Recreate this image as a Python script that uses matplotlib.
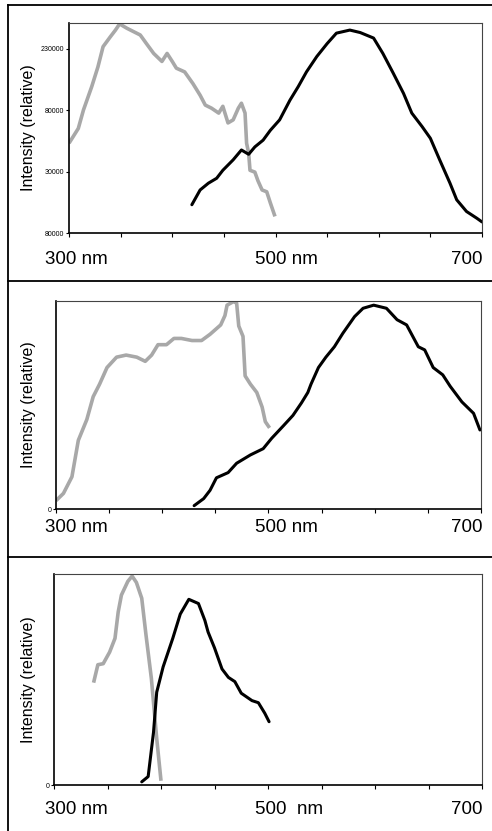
"""Excitation (gray) and emission (black) spectra, three stacked panels."""

import matplotlib
matplotlib.use("Agg")
import matplotlib.pyplot as plt
from matplotlib.lines import Line2D

plt.rcParams["font.family"] = ["Liberation Sans", "DejaVu Sans"]

# ---------------------------------------------------------------------------
# Data (wavelength in nm, intensity in relative units)
# ---------------------------------------------------------------------------

# Panel 1 -- y ticks sit at 0, 1, 2, 3
p1_exc_nm = [300, 309, 314, 322, 328, 333, 340, 345, 349, 356, 369, 375, 382,
             390, 395, 400, 404, 412, 420, 427, 432, 438, 445, 449, 454, 459,
             464, 467, 470.5, 472, 474, 475.3, 480, 483, 487, 491.5, 495, 499.5]
p1_exc_y = [1.46, 1.70, 2.00, 2.38, 2.70, 3.03, 3.19, 3.30, 3.40, 3.33, 3.22,
            3.08, 2.92, 2.79, 2.92, 2.79, 2.68, 2.62, 2.43, 2.24, 2.08, 2.03,
            1.95, 2.06, 1.79, 1.84, 2.03, 2.11, 1.95, 1.46, 1.30, 1.02, 0.99,
            0.85, 0.70, 0.67, 0.49, 0.27]

p1_em_nm = [419, 427, 435, 443, 449, 459, 467, 474, 480, 488, 495, 504, 514,
            522, 530, 540, 550, 559, 572, 582, 595, 604, 614, 624, 632, 642,
            650, 659, 669, 675.5, 685, 695, 700]
p1_em_y = [0.46, 0.70, 0.81, 0.89, 1.02, 1.19, 1.35, 1.28, 1.40, 1.51, 1.67,
           1.84, 2.16, 2.38, 2.62, 2.87, 3.08, 3.25, 3.30, 3.26, 3.17, 2.92,
           2.60, 2.27, 1.95, 1.73, 1.54, 1.19, 0.81, 0.54, 0.35, 0.24, 0.18]
p1_yticks = [0, 1, 2, 3]
p1_yticklabels = ["80000", "30000", "80000", "230000"]

# Panel 2 -- fraction of full scale
p2_exc_nm = [300, 307, 315, 321, 329, 335, 341, 348, 357, 366, 376, 384, 390,
             396, 404, 411, 418, 428, 437, 445, 455, 459, 461, 467, 470, 472,
             476, 478, 483, 489, 494, 497, 501]
p2_exc_y = [0.04, 0.075, 0.155, 0.33, 0.43, 0.54, 0.60, 0.68, 0.73, 0.74, 0.73,
            0.71, 0.74, 0.79, 0.79, 0.82, 0.82, 0.81, 0.81, 0.84, 0.885, 0.93,
            0.98, 0.997, 0.99, 0.88, 0.83, 0.64, 0.60, 0.56, 0.49, 0.42, 0.39]

p2_em_nm = [430, 439, 445, 451, 462, 470, 483, 495, 503, 514, 523, 531, 537,
            540, 547, 554, 562, 570, 581, 589, 599, 611, 621, 630, 641, 647,
            655, 664, 671, 682, 693, 699]
p2_em_y = [0.016, 0.05, 0.09, 0.15, 0.175, 0.22, 0.26, 0.29, 0.34, 0.40, 0.45,
           0.51, 0.56, 0.60, 0.68, 0.73, 0.78, 0.845, 0.925, 0.965, 0.98, 0.965,
           0.91, 0.885, 0.78, 0.765, 0.68, 0.645, 0.59, 0.515, 0.46, 0.38]

# Panel 3 -- fraction of full scale
p3_exc_nm = [337, 341, 346, 352, 357, 360, 363, 369, 373, 377, 382, 386, 391,
             396, 400]
p3_exc_y = [0.485, 0.57, 0.575, 0.63, 0.695, 0.82, 0.90, 0.965, 0.99, 0.96,
            0.885, 0.71, 0.505, 0.22, 0.02]

p3_em_nm = [382, 388, 393, 396, 402, 411, 418, 426, 435, 441, 444, 450, 457,
            463, 469, 475, 485, 491, 497, 501]
p3_em_y = [0.015, 0.04, 0.25, 0.44, 0.56, 0.695, 0.81, 0.88, 0.86, 0.78, 0.725,
           0.65, 0.55, 0.51, 0.49, 0.435, 0.40, 0.39, 0.34, 0.30]

GRAY = "#a8a8a8"
W, H = 492, 831


def fx(px):
    return px / W


def fy(py):
    return 1 - py / H


def make_panel(fig, box, exc, em, ylim, yticks, yticklabels, mid_label, text_y):
    left, top, right, bottom = box
    ax = fig.add_axes([fx(left), fy(bottom), (right - left) / W, (bottom - top) / H])
    ax.plot(exc[0], exc[1], color=GRAY, lw=2.6, solid_capstyle="butt")
    ax.plot(em[0], em[1], color="black", lw=2.2, solid_capstyle="round",
            solid_joinstyle="round")
    ax.set_xlim(300, 700)
    ax.set_ylim(*ylim)
    ax.set_xticks(range(300, 701, 50))
    ax.set_xticklabels([])
    ax.set_yticks(yticks)
    ax.set_yticklabels(yticklabels, fontsize=5)
    ax.tick_params(axis="x", direction="out", length=3, width=0.8)
    ax.tick_params(axis="y", direction="out", length=2, width=0.8, pad=1.5)
    for s in ["left", "bottom"]:
        ax.spines[s].set_linewidth(1.2)
    for s in ["top", "right"]:
        ax.spines[s].set_linewidth(0.8)
        ax.spines[s].set_color("#444444")

    cy = fy((top + bottom) / 2)
    fig.text(fx(28), cy, "Intensity (relative)", rotation=90, ha="center",
             va="center", fontsize=11.5)
    fig.text(fx(45), fy(text_y), "300 nm", ha="left", va="center", fontsize=13.5)
    fig.text(fx(255), fy(text_y), mid_label, ha="left", va="center", fontsize=13.5)
    fig.text(fx(482), fy(text_y), "700", ha="right", va="center", fontsize=13.5)
    return ax


fig = plt.figure(figsize=(W / 100, H / 100), dpi=100)

make_panel(fig, (69, 23, 482, 233), (p1_exc_nm, p1_exc_y), (p1_em_nm, p1_em_y),
           (0, 3.415), p1_yticks, p1_yticklabels, "500 nm", 259)
make_panel(fig, (56, 301, 481, 509), (p2_exc_nm, p2_exc_y), (p2_em_nm, p2_em_y),
           (0, 1.0), [0], ["0"], "500 nm", 528)
make_panel(fig, (54, 574, 482, 785), (p3_exc_nm, p3_exc_y), (p3_em_nm, p3_em_y),
           (0, 1.0), [0], ["0"], "500  nm", 810)

# frame lines around the three panels
for y in [5, 281, 557]:
    fig.add_artist(Line2D([fx(8), 1], [fy(y), fy(y)], color="black", lw=1.3))
fig.add_artist(Line2D([fx(8), fx(8)], [fy(5), 0], color="black", lw=1.3))

fig.savefig("out.png", dpi=100)
